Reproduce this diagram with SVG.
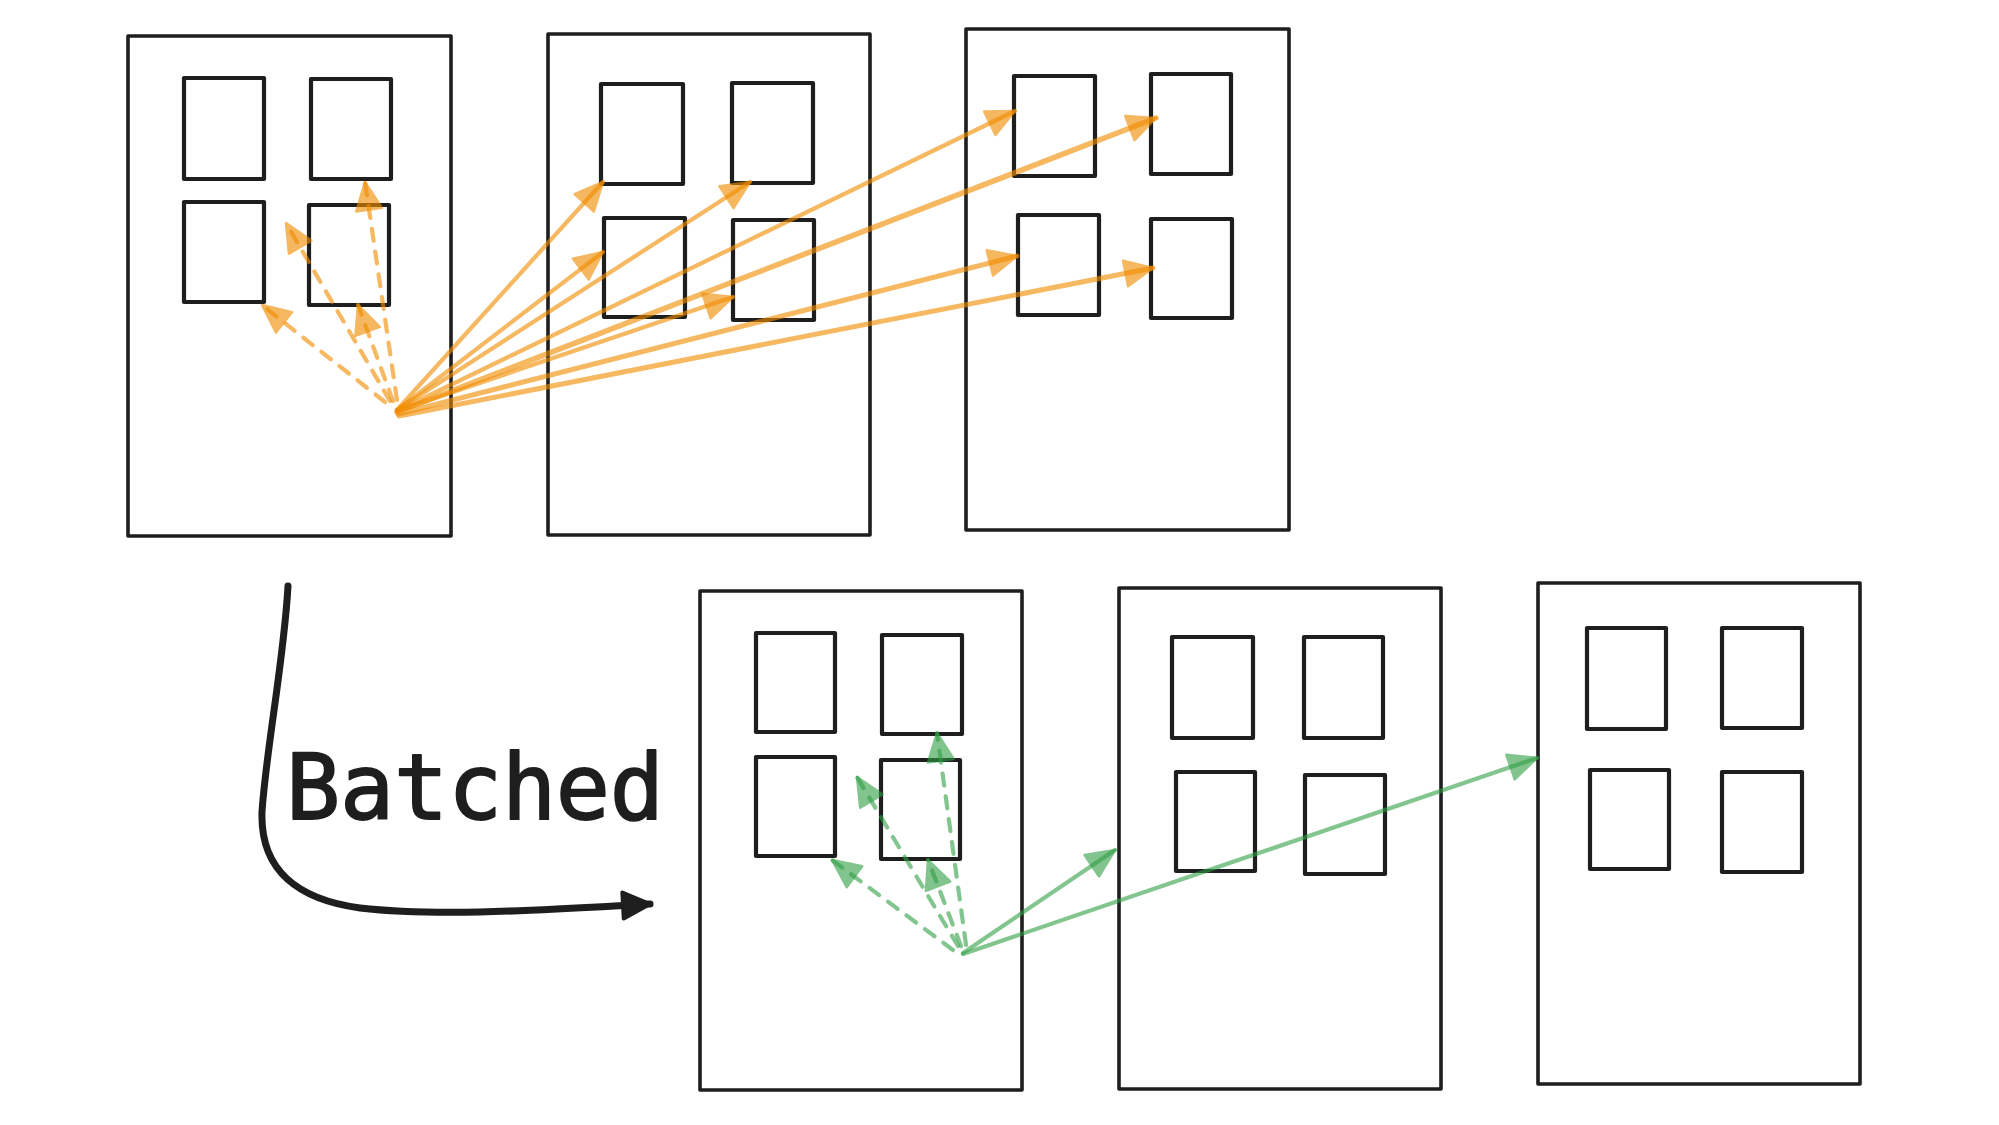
<svg xmlns="http://www.w3.org/2000/svg" width="1999" height="1125" viewBox="0 0 1999 1125">
<style>
.box{fill:none;stroke:#1e1e1e;stroke-width:3.6;stroke-linejoin:round}
.win{fill:none;stroke:#1e1e1e;stroke-width:4.2;stroke-linejoin:round}
.or{fill:none;stroke:#f08c00;stroke-opacity:0.62;stroke-width:4.2;stroke-linecap:round}
.gr{fill:none;stroke:#2f9e44;stroke-opacity:0.6;stroke-width:4.2;stroke-linecap:round}
.dash{stroke-dasharray:12 11}
.label{font-family:"DejaVu Sans Mono","Liberation Mono",monospace;font-size:90px;fill:#1e1e1e;stroke:#1e1e1e;stroke-width:1.8;stroke-linejoin:round}
</style>
<defs>
<marker id="ao" markerUnits="userSpaceOnUse" markerWidth="36" markerHeight="32" refX="30" refY="15" orient="auto">
<g opacity="0.62"><path d="M2,2 L30,15 L2,28 Z" fill="#f08c00" stroke="#f08c00" stroke-width="2.5" stroke-linejoin="round"/></g>
</marker>
<marker id="ag" markerUnits="userSpaceOnUse" markerWidth="36" markerHeight="32" refX="30" refY="15" orient="auto">
<g opacity="0.6"><path d="M2,2 L30,15 L2,28 Z" fill="#2f9e44" stroke="#2f9e44" stroke-width="2.5" stroke-linejoin="round"/></g>
</marker>
<marker id="ab" markerUnits="userSpaceOnUse" markerWidth="36" markerHeight="34" refX="30" refY="16" orient="auto">
<path d="M3,3 L30,16 L3,29 Z" fill="#1e1e1e" stroke="#1e1e1e" stroke-width="4" stroke-linejoin="round"/>
</marker>
</defs>
<rect width="1999" height="1125" fill="#ffffff"/>

<g id="block-top-1">
<rect class="box" x="128" y="36" width="323" height="500"/>
<rect class="win" x="184" y="78" width="80" height="101"/>
<rect class="win" x="311" y="79" width="80" height="100"/>
<rect class="win" x="184" y="202" width="80" height="100"/>
<rect class="win" x="309" y="205" width="80" height="100"/>
</g>
<g id="block-top-2">
<rect class="box" x="548" y="34" width="322" height="501"/>
<rect class="win" x="601" y="84" width="82" height="100"/>
<rect class="win" x="732" y="83" width="81" height="100"/>
<rect class="win" x="604" y="218" width="81" height="99"/>
<rect class="win" x="733" y="220" width="81" height="100"/>
</g>
<g id="block-top-3">
<rect class="box" x="966" y="29" width="323" height="501"/>
<rect class="win" x="1014" y="76" width="81" height="100"/>
<rect class="win" x="1151" y="74" width="80" height="100"/>
<rect class="win" x="1018" y="215" width="81" height="100"/>
<rect class="win" x="1151" y="219" width="81" height="99"/>
</g>
<g id="block-bottom-1">
<rect class="box" x="700" y="591" width="322" height="499"/>
<rect class="win" x="756" y="633" width="79" height="99"/>
<rect class="win" x="882" y="635" width="80" height="99"/>
<rect class="win" x="756" y="757" width="79" height="99"/>
<rect class="win" x="881" y="760" width="79" height="99"/>
</g>
<g id="block-bottom-2">
<rect class="box" x="1119" y="588" width="322" height="501"/>
<rect class="win" x="1172" y="637" width="81" height="101"/>
<rect class="win" x="1304" y="637" width="79" height="101"/>
<rect class="win" x="1176" y="772" width="79" height="99"/>
<rect class="win" x="1305" y="775" width="80" height="99"/>
</g>
<g id="block-bottom-3">
<rect class="box" x="1538" y="583" width="322" height="501"/>
<rect class="win" x="1587" y="628" width="79" height="101"/>
<rect class="win" x="1722" y="628" width="80" height="100"/>
<rect class="win" x="1590" y="770" width="79" height="99"/>
<rect class="win" x="1722" y="772" width="80" height="100"/>
</g>

<g id="label-batched">
<text class="label" x="286" y="819" textLength="378" lengthAdjust="spacing">Batched</text>
</g>

<g id="connectors">
<path d="M288,586 C284,660 266,750 262,812 C260,872 300,900 360,908 C440,917 540,910 650,904" fill="none" stroke="#1e1e1e" stroke-width="7" stroke-linecap="round" marker-end="url(#ab)"/>

<path class="or" d="M397,410 L603,182" marker-end="url(#ao)"/>
<path class="or" d="M397,410 L603,252" marker-end="url(#ao)"/>
<path class="or" d="M397,410 L750,182" marker-end="url(#ao)"/>
<path class="or" d="M397,411 L733,297" marker-end="url(#ao)"/>
<path class="or" d="M397,411 L1015,111" marker-end="url(#ao)"/>
<path class="or" d="M397,412 L1156,118" style="stroke-width:5.5" marker-end="url(#ao)"/>
<path class="or" d="M398,414 L1017,256" style="stroke-width:5" marker-end="url(#ao)"/>
<path class="or" d="M399,416 L1153,268" style="stroke-width:5" marker-end="url(#ao)"/>
<path class="or dash" d="M397,400 L365,182" marker-end="url(#ao)"/>
<path class="or dash" d="M390,401 L286,223" marker-end="url(#ao)"/>
<path class="or dash" d="M393,401 L358,305" marker-end="url(#ao)"/>
<path class="or dash" d="M385,402 L262,305" marker-end="url(#ao)"/>

<path class="gr" d="M963,953 L1115,850" marker-end="url(#ag)"/>
<path class="gr" d="M963,954 L1537,758" marker-end="url(#ag)"/>
<path class="gr dash" d="M966,945 L937,733" marker-end="url(#ag)"/>
<path class="gr dash" d="M958,946 L857,777" marker-end="url(#ag)"/>
<path class="gr dash" d="M961,946 L928,860" marker-end="url(#ag)"/>
<path class="gr dash" d="M953,950 L832,860" marker-end="url(#ag)"/>
</g>
</svg>
